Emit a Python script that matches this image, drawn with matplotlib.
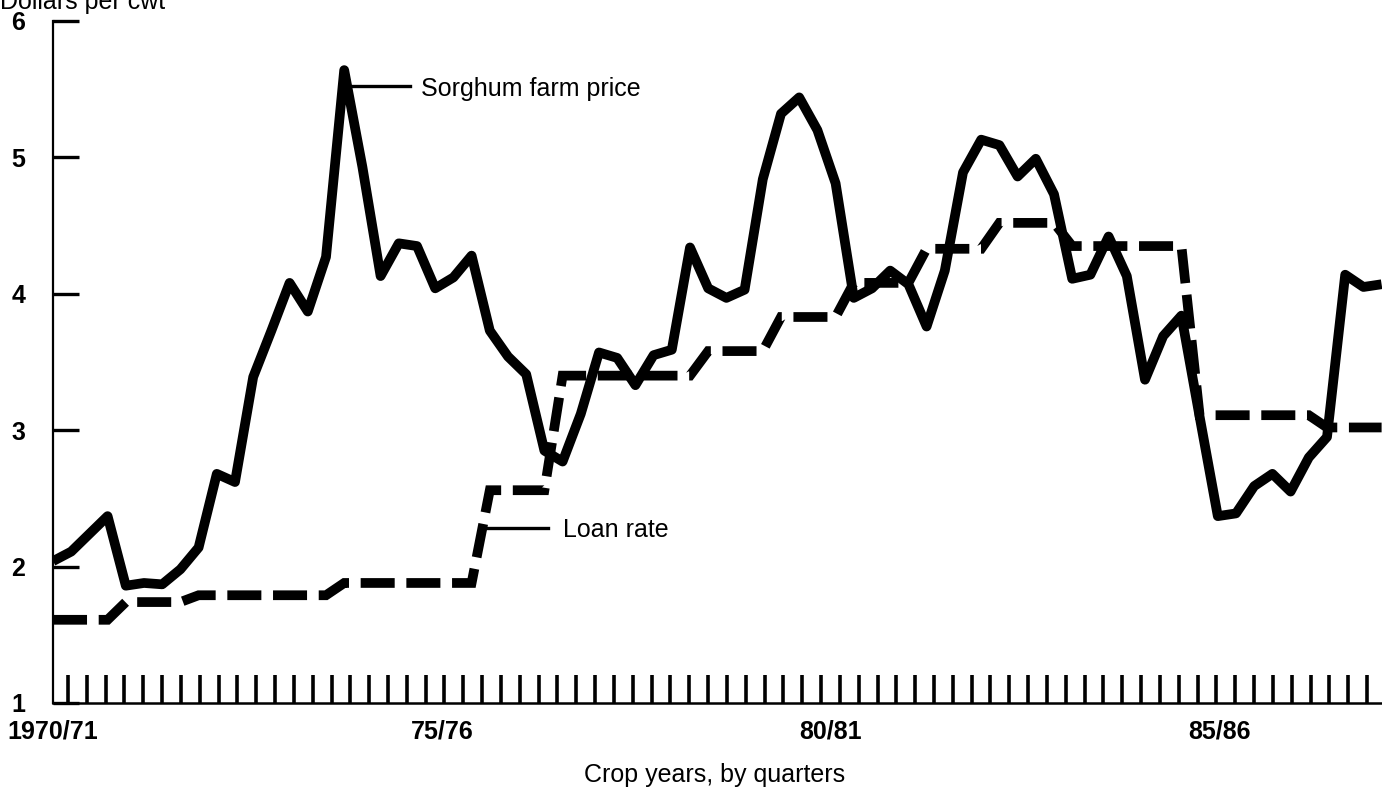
import matplotlib
matplotlib.use("Agg")
import matplotlib.pyplot as plt
import numpy as np

plt.rcParams['font.family'] = ['Liberation Sans', 'DejaVu Sans']

# -----------------------------
# Data (dollars per cwt, quarterly)
# -----------------------------
sorghum_price = [
    2.04, 2.11, 2.24, 2.37, 1.86, 1.88, 1.87, 1.98, 2.14, 2.68,
    2.62, 3.39, 3.73, 4.08, 3.87, 4.27, 5.64, 4.93, 4.13, 4.37,
    4.35, 4.04, 4.12, 4.28, 3.73, 3.54, 3.41, 2.85, 2.77, 3.12,
    3.57, 3.53, 3.33, 3.55, 3.59, 4.34, 4.04, 3.97, 4.03, 4.84,
    5.32, 5.44, 5.20, 4.81, 3.97, 4.04, 4.17, 4.07, 3.76, 4.17,
    4.89, 5.13, 5.09, 4.86, 4.99, 4.73, 4.11, 4.14, 4.42, 4.13,
    3.37, 3.69, 3.84, 3.10, 2.37, 2.39, 2.59, 2.68, 2.55, 2.80,
    2.95, 4.14, 4.05, 4.07,
]

loan_rate = (
    [1.61] * 4 + [1.74] * 4 + [1.79] * 8 + [1.88] * 8 + [2.56] * 4
    + [3.40] * 8 + [3.58] * 4 + [3.83] * 4 + [4.08] * 4 + [4.33] * 4
    + [4.52] * 4 + [4.35] * 7 + [3.11] * 7 + [3.02] * 4
)

quarters = np.arange(len(sorghum_price))

year_labels = ["1970/71", "75/76", "80/81", "85/86"]
year_label_pos = [0, 21.37, 42.75, 64.12]
quarter_ticks = np.linspace(0.82, 72.2, 70)

# -----------------------------
# Figure
# -----------------------------
fig = plt.figure(figsize=(13.82, 7.90), dpi=100)
ax = fig.add_axes([53 / 1382, 87 / 790, 1 - 53 / 1382, 682 / 790])

ax.plot(quarters, sorghum_price, color="black", lw=7,
        solid_joinstyle="round", solid_capstyle="butt", zorder=3)
ax.plot(quarters, loan_rate, color="black", lw=7,
        dashes=(3.5, 1.2), dash_capstyle="butt", dash_joinstyle="miter", zorder=2)

# leader lines + labels
ax.plot([16.4, 19.6], [5.52, 5.52], color="black", lw=2.4)
ax.text(20.2, 5.50, "Sorghum farm price", fontsize=18, va="center", ha="left")
ax.plot([23.6, 27.2], [2.28, 2.28], color="black", lw=2.4)
ax.text(28.0, 2.27, "Loan rate", fontsize=18, va="center", ha="left")

ax.set_xlim(0, (1382 - 53) / 18.2)
ax.set_ylim(1, 6)

for s in ["top", "right"]:
    ax.spines[s].set_visible(False)
ax.spines["left"].set_linewidth(1.6)
ax.spines["bottom"].set_linewidth(1.8)

ax.set_yticks([1, 2, 3, 4, 5, 6])
ax.set_yticklabels(["1", "2", "3", "4", "5", "6"], fontsize=18, fontweight="bold")
ax.tick_params(axis="y", direction="in", length=19, width=2.4, pad=20)

ax.set_xticks(year_label_pos)
ax.set_xticklabels(year_labels, fontsize=18, fontweight="bold")
ax.set_xticks(quarter_ticks, minor=True)
ax.tick_params(axis="x", which="major", length=0, pad=12)
ax.tick_params(axis="x", which="minor", direction="in", length=20, width=2.6)

fig.text(0.0, 1 - 9 / 790, "Dollars per cwt", fontsize=18, ha="left", va="baseline")
fig.text(715 / 1382, 1 - 775 / 790, "Crop years, by quarters", fontsize=18,
         ha="center", va="center")

fig.savefig("out.png", dpi=100)
